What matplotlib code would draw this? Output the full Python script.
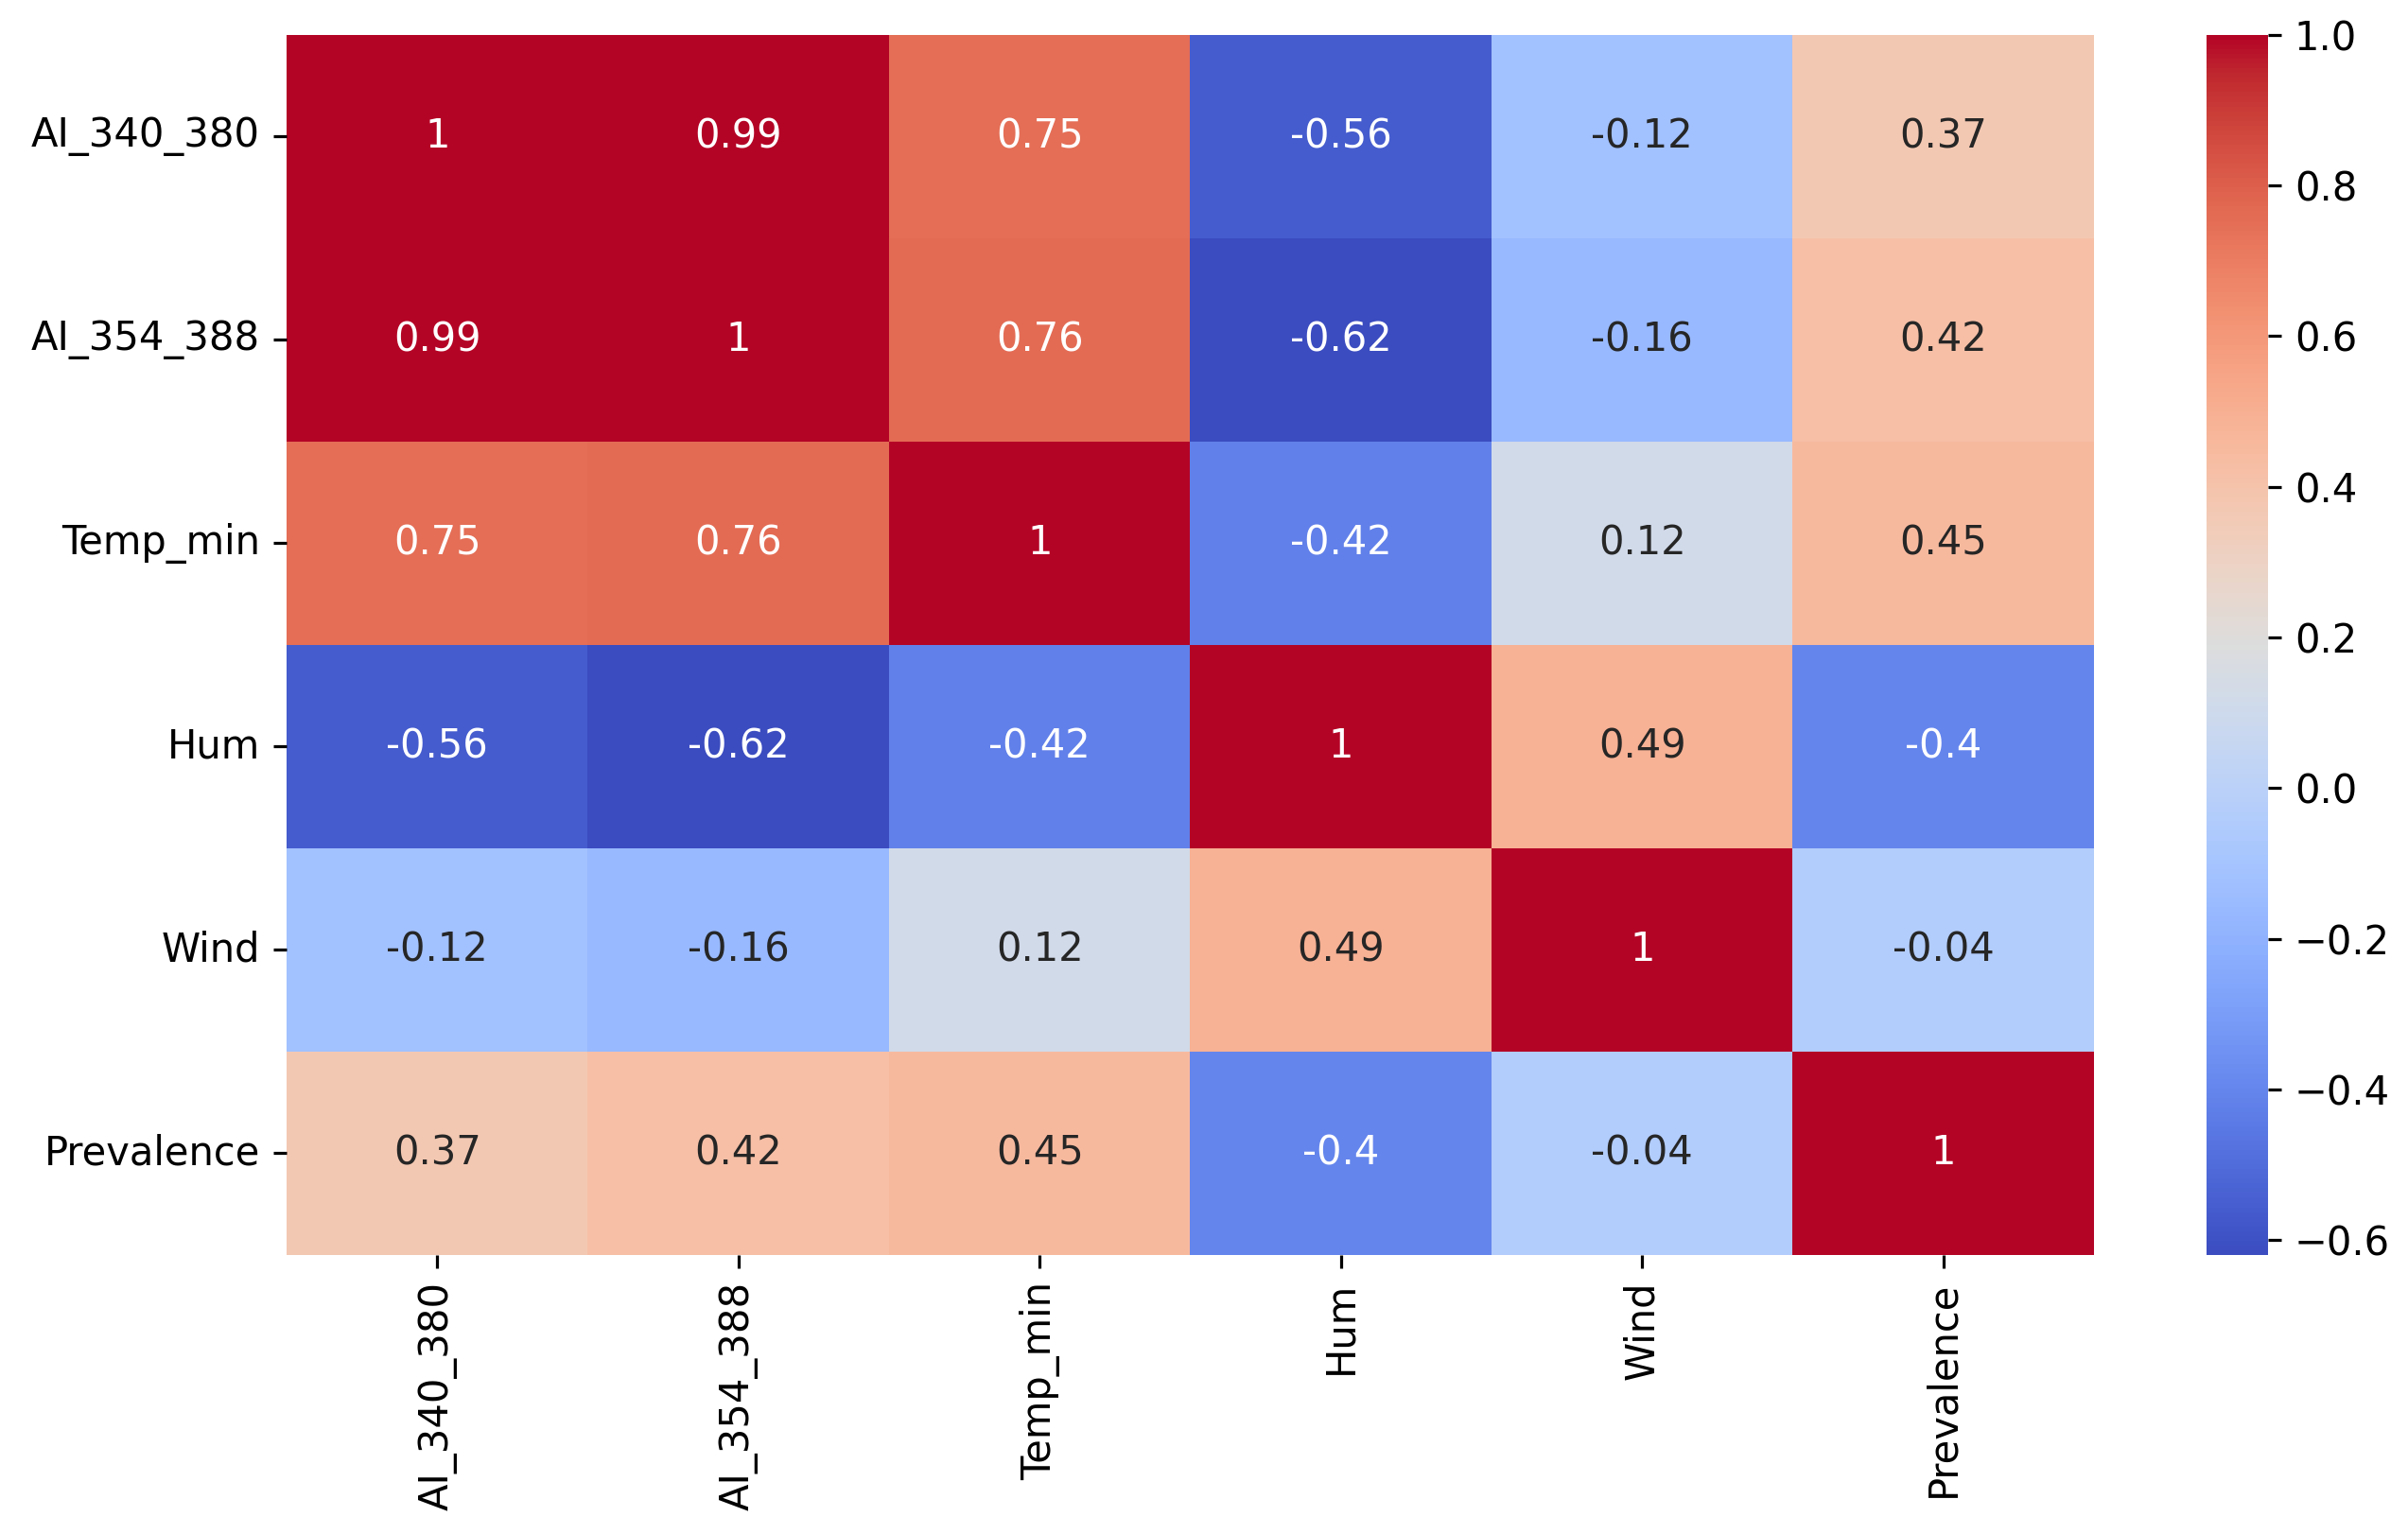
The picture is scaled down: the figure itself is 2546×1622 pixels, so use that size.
import numpy as np
import pandas as pd
import seaborn as sns
from matplotlib import pyplot as plt

labels = ["AI_340_380", "AI_354_388", "Temp_min", "Hum", "Wind", "Prevalence"]

# correlation matrix
row_ai340 = [1.00, 0.994, 0.75, -0.56, -0.12, 0.37]
row_ai354 = [0.994, 1.00, 0.76, -0.62, -0.16, 0.42]
row_temp = [0.75, 0.76, 1.00, -0.42, 0.12, 0.45]
row_hum = [-0.56, -0.62, -0.42, 1.00, 0.49, -0.40]
row_wind = [-0.12, -0.16, 0.12, 0.49, 1.00, -0.04]
row_prev = [0.37, 0.42, 0.45, -0.40, -0.04, 1.00]

corr = pd.DataFrame([row_ai340, row_ai354, row_temp, row_hum, row_wind, row_prev],
                    index=labels, columns=labels)

plt.rcParams['font.size'] = 10.4

dpi = 288
fig = plt.figure(figsize=(2546 / dpi, 1622 / dpi), dpi=dpi)
ax = fig.add_axes([0.119, 0.1819, 0.7506, 0.7953])
cax = fig.add_axes([0.9163, 0.1819, 0.0255, 0.7953])

sns.heatmap(corr, annot=True, cmap="coolwarm", ax=ax, cbar_ax=cax)
ax.tick_params(axis="x", labelrotation=90)
ax.tick_params(axis="y", labelrotation=0)

fig.savefig("out.png", dpi=dpi)
